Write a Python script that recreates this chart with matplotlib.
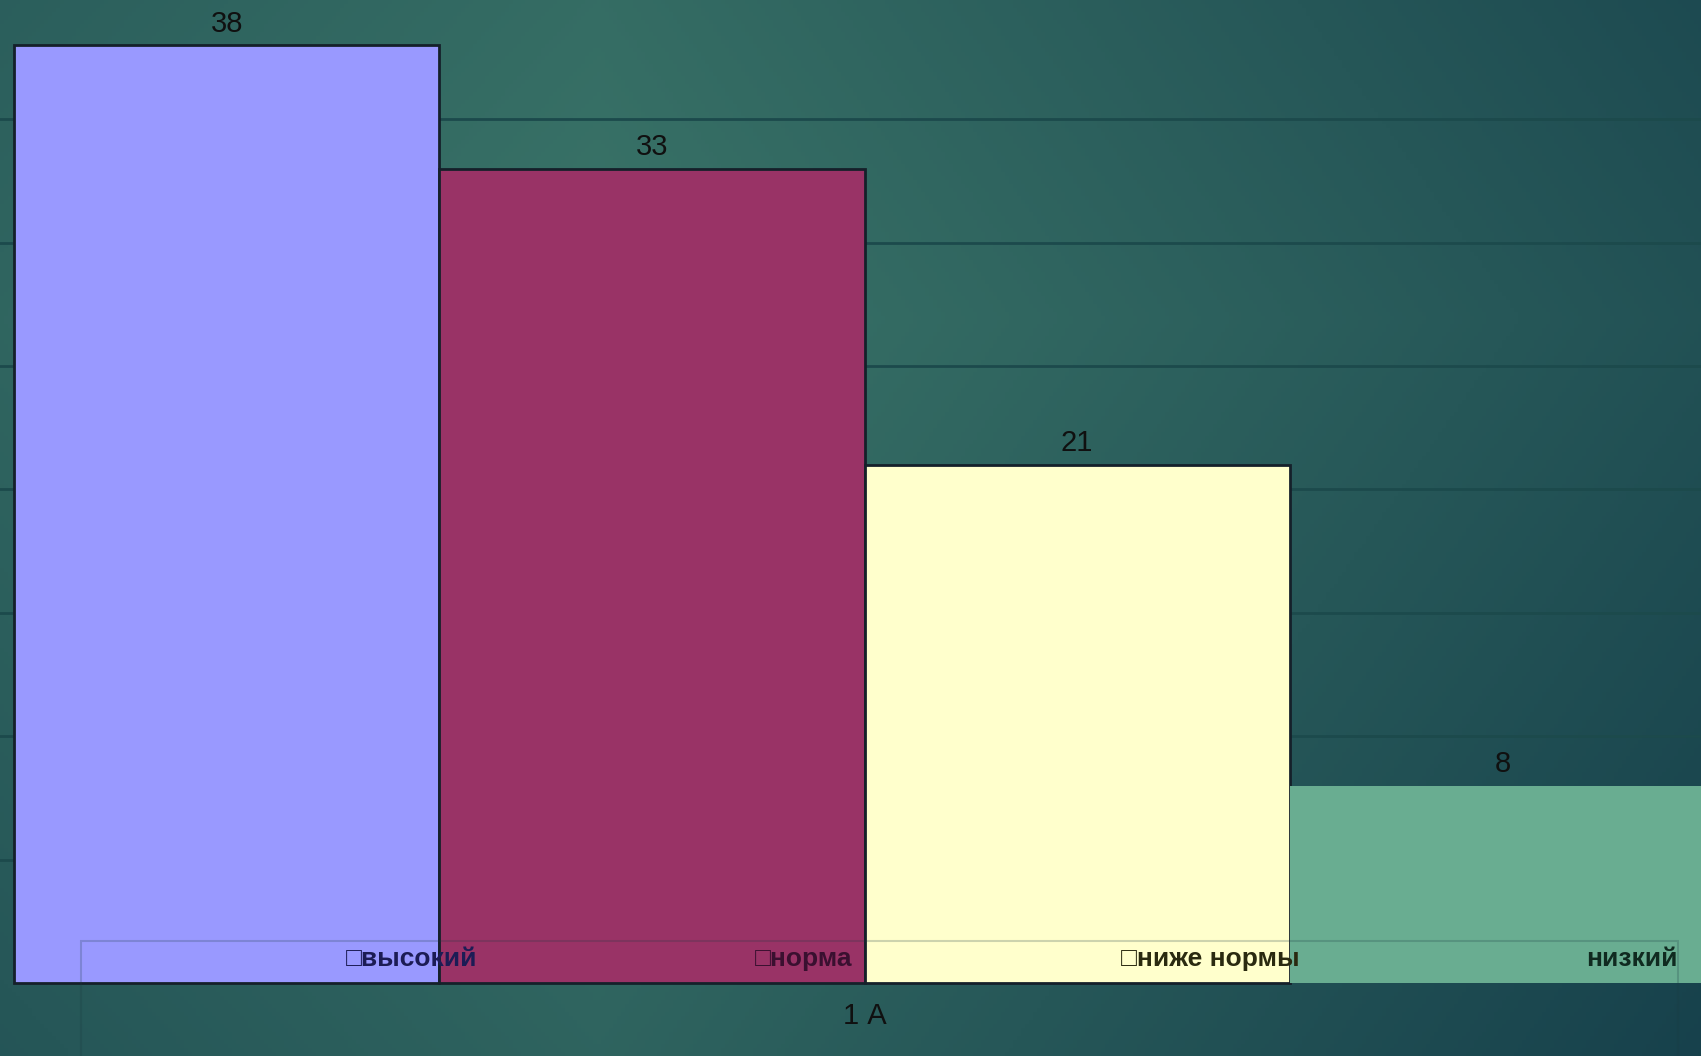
import numpy as np
import matplotlib
matplotlib.use("Agg")
import matplotlib.pyplot as plt
from matplotlib.colors import to_rgb
from matplotlib.patches import Rectangle

# Chart data
categories = ["1 А"]
series = ["высокий", "норма", "ниже нормы", "низкий"]
values = [38, 33, 21, 8]
colors = ["#9999ff", "#993366", "#ffffcc", "#69ad91"]
text_colors = ["#1c1c55", "#3a1030", "#2a2a10", "#102a20"]

plt.rcParams['font.family'] = ['Liberation Sans', 'DejaVu Sans']


def gradient_background(fig):
    # dark teal backdrop, lighter in the upper middle, darker to the right
    bg = fig.add_axes([0, 0, 1, 1], zorder=0)
    h, w = 264, 425
    yy, xx = np.mgrid[0:h, 0:w]
    xn = xx / w
    yn = yy / h
    t = (0.6 * np.clip((xn - 0.35) / 0.65, 0, 1)
         + 0.4 * np.abs(yn - 0.3)
         + 0.25 * np.clip((0.35 - xn) / 0.35, 0, 1))
    t = np.clip(t, 0, 1)
    c1 = np.array(to_rgb("#3a7468"))
    c2 = np.array(to_rgb("#123a48"))
    img = c1[None, None, :] * (1 - t[..., None]) + c2[None, None, :] * t[..., None]
    bg.imshow(img, aspect="auto", extent=[0, 1, 0, 1], origin="upper")
    bg.axis("off")


def main():
    fig = plt.figure(figsize=(17.01, 10.56), dpi=100)
    gradient_background(fig)

    ax = fig.add_axes([0, 0, 1, 1], zorder=1)
    ax.set_facecolor("none")
    ax.set_xlim(-0.533, 3.467)
    ax.set_ylim(-2.96, 39.83)

    x = np.arange(len(values))
    edges = ["#15202a", "#15202a", "#15202a", "none"]
    ax.bar(x, values, width=1.0, color=colors, edgecolor=edges, linewidth=2.0, zorder=2)

    # value labels
    for xi, v in zip(x, values):
        ax.text(xi, v + 0.86, str(v), ha="center", va="center", fontsize=21,
                color="#101010", zorder=4)

    # category label under the group
    ax.text(x.mean(), -1.34, categories[0], ha="center", va="center",
            fontsize=21, color="#101010", zorder=4)

    ax.set_yticks(range(5, 40, 5))
    ax.yaxis.grid(True, color="#1c4a4c", linewidth=2.0)
    ax.set_axisbelow(True)
    ax.tick_params(length=0, labelleft=False, labelbottom=False)
    ax.set_xticks([])
    for s in ax.spines.values():
        s.set_visible(False)

    # legend frame, cut off by the picture edge
    fig.patches.append(Rectangle((81 / 1701, -0.1), (1678 - 81) / 1701, 0.1 + 115 / 1056,
                                 transform=fig.transFigure, fill=False,
                                 edgecolor="#1a3a40", alpha=0.22, linewidth=1.5, zorder=3))

    # legend entries
    right_edges = [477, 852, 1300, 1678]
    for i, name in enumerate(series):
        label = name if i == len(series) - 1 else "□" + name
        fig.text(right_edges[i] / 1701, (1056 - 959) / 1056, label, ha="right", va="center",
                 fontsize=19, fontweight="bold", color=text_colors[i], zorder=5)

    fig.savefig("out.png", dpi=100)


if __name__ == "__main__":
    main()
